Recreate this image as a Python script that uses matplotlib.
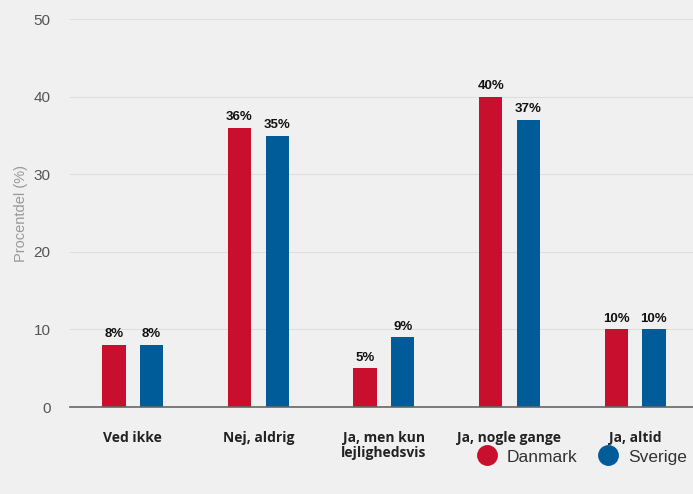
import matplotlib
matplotlib.use('Agg')
from matplotlib import pyplot as plt
import numpy as np

# data
categories = ['Ved ikke', 'Nej, aldrig', 'Ja, men kun\nlejlighedsvis', 'Ja, nogle gange', 'Ja, altid']
danmark = [8, 36, 5, 40, 10]
sverige = [8, 35, 9, 37, 10]
series_names = ['Danmark', 'Sverige']
colors = ['#c8102e', '#005b99']

bg = '#f0f0f0'
fig = plt.figure(figsize=(6.93, 4.94), dpi=100, facecolor=bg)
ax = fig.add_axes([0.101, 0.176, 0.906, 0.785], facecolor=bg)

x = np.arange(len(categories))
off = 0.15
w = 0.185
for vals, dx, c in [(danmark, -off, colors[0]), (sverige, off, colors[1])]:
    bars = ax.bar(x + dx, vals, width=w, color=c, zorder=3)
    for b, v in zip(bars, vals):
        ax.text(b.get_x() + b.get_width() / 2, v + 0.6, f'{v}%', ha='center', va='bottom',
                fontsize=9.5, fontweight='bold', family='Liberation Sans', color='#111111')

ax.set_xlim(-0.5, 4.5)
ax.set_ylim(0, 50)
ax.set_yticks([0, 10, 20, 30, 40, 50])
ax.grid(axis='y', color='#dedede', linewidth=0.8, zorder=0)
for s in ['top', 'right', 'left']:
    ax.spines[s].set_visible(False)
ax.spines['bottom'].set_color('#666666')
ax.spines['bottom'].set_linewidth(1.2)
ax.spines['bottom'].set_zorder(4)

ax.tick_params(axis='y', length=0, pad=14, labelsize=11, labelcolor='#555555')
ax.tick_params(axis='x', length=0, pad=17)
for lab in ax.get_yticklabels():
    lab.set_family('Liberation Sans')
ax.set_xticks(x)
ax.set_xticklabels(categories, fontsize=10, fontweight='bold', family='Open Sans',
                   color='#222222', linespacing=1.15)
ax.set_ylabel('Procentdel (%)', fontsize=10.5, color='#999999', family='Liberation Sans', labelpad=4)

handles = [plt.Line2D([], [], marker='o', linestyle='', markersize=14, color=c) for c in colors]
fig.legend(handles, series_names, loc='center left', bbox_to_anchor=(0.655, 0.075), ncol=2,
           frameon=False, handletextpad=0.15, columnspacing=0.75,
           prop={'family': 'Liberation Sans', 'size': 12.5}, labelcolor='#333333')

fig.savefig('out.png', dpi=100, facecolor=bg)
